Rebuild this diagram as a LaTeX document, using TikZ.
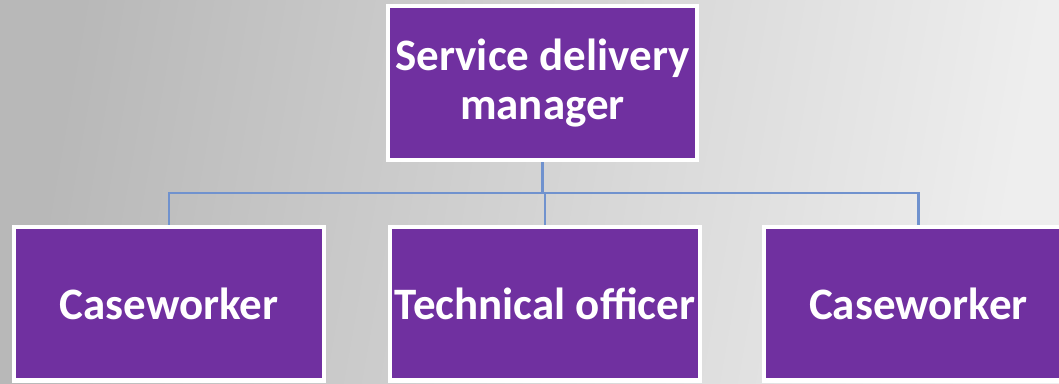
\documentclass[tikz,border=0pt]{standalone}
\usepackage{fontspec}
\setmainfont{Carlito}
\usetikzlibrary{positioning}

\definecolor{rolepurple}{RGB}{112,48,160}
\definecolor{linkblue}{RGB}{112,146,206}
\definecolor{bgdark}{RGB}{184,184,184}
\definecolor{bglight}{RGB}{238,238,238}

\begin{document}
\begin{tikzpicture}[
        x=0.02cm, y=-0.02cm,
        font=\fontsize{25.6}{27.5}\selectfont\bfseries,
        every node/.style={align=center},
        role/.style={fill=rolepurple, draw=white, line width=2.3pt,
            text=white, minimum width=6.2cm, minimum height=3.08cm,
            inner sep=0pt},
        link/.style={draw=linkblue, line width=1.15pt}
    ]

        % --- Koordinaten ---
        \def\chefx{542.5}
        \def\chefy{83}
        \def\teamy{303.5}
        \def\leftx{169}
        \def\midx{545}
        \def\rightx{918.5}

        % --- Hintergrund ---
        \useasboundingbox (0,0) rectangle (1059,383);
        \shade[left color=bgdark, right color=bglight, shading angle=80]
            (0,0) rectangle (1059,383);

        % --- Leitung ---
        \node[role] (sdm) at (\chefx, \chefy) {Service delivery\\manager};

        % --- Team ---
        \node[role] (cwleft)  at (\leftx,  \teamy) {Caseworker};
        \node[role] (techoff) at (\midx,   \teamy) {Technical officer};
        \node[role] (cwright) at (\rightx, \teamy) {Caseworker};

        % --- Verbindungen ---
        \draw[link] (sdm.south) -- ++(0,31) -| (cwleft.north);
        \draw[link] (sdm.south) -- ++(0,31) -| (techoff.north);
        \draw[link] (sdm.south) -- ++(0,31) -| (cwright.north);

    \end{tikzpicture}
\end{document}
